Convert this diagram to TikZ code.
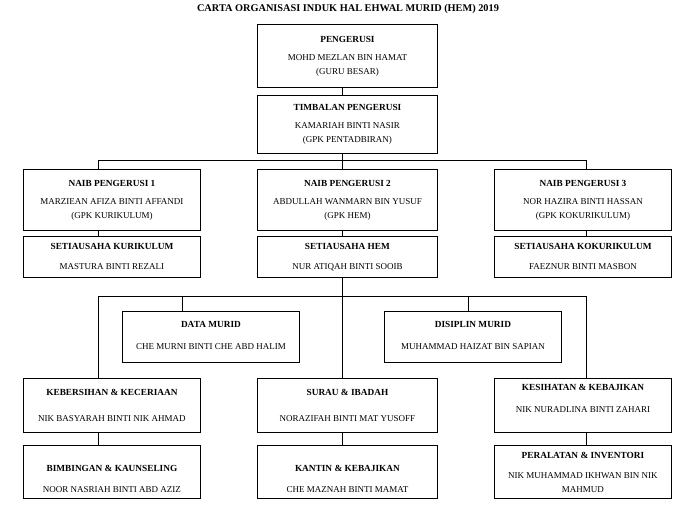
\documentclass[tikz,border=0pt]{standalone}
\usepackage{fontspec}
\setmainfont{Liberation Serif}
\newcommand{\hdr}[1]{{\bfseries\fontsize{9.3}{14}\selectfont #1}}
\begin{document}
\begin{tikzpicture}[x=1pt,y=-1pt,
  box/.style={draw, line width=0.9pt, anchor=north west, align=center, inner sep=0pt,
    font=\fontsize{9}{14}\selectfont},
  wbox/.style={box, minimum width=180},
  nbox/.style={box, minimum width=177},
  conn/.style={line width=0.7pt}]
\useasboundingbox (0,0) rectangle (686,507);
\node[font=\bfseries\fontsize{10.3}{12}\selectfont] (title) at (348,9) {CARTA ORGANISASI INDUK HAL EHWAL MURID (HEM) 2019};
% top
\node[wbox, minimum height=63] (p) at (257,24) {\hdr{PENGERUSI}\\[4pt]MOHD MEZLAN BIN HAMAT\\(GURU BESAR)};
\node[wbox, minimum height=58] (t) at (257,95) {\hdr{TIMBALAN PENGERUSI}\\[4pt]KAMARIAH BINTI NASIR\\(GPK PENTADBIRAN)};
% naib
\node[nbox, minimum height=61] (n1) at (23,169) {\hdr{NAIB PENGERUSI 1}\\[4pt]MARZIEAN AFIZA BINTI AFFANDI\\(GPK KURIKULUM)};
\node[wbox, minimum height=61] (n2) at (257,169) {\hdr{NAIB PENGERUSI 2}\\[4pt]ABDULLAH WANMARN BIN YUSUF\\(GPK HEM)};
\node[nbox, minimum height=61] (n3) at (494,169) {\hdr{NAIB PENGERUSI 3}\\[4pt]NOR HAZIRA BINTI HASSAN\\(GPK KOKURIKULUM)};
% setiausaha
\node[nbox, minimum height=41] (s1) at (23,236) {\hdr{SETIAUSAHA KURIKULUM}\\[6pt]MASTURA BINTI REZALI};
\node[wbox, minimum height=41] (s2) at (257,236) {\hdr{SETIAUSAHA HEM}\\[6pt]NUR ATIQAH BINTI SOOIB};
\node[nbox, minimum height=41] (s3) at (494,236) {\hdr{SETIAUSAHA KOKURIKULUM}\\[6pt]FAEZNUR BINTI MASBON};
% data / disiplin
\node[nbox, minimum height=51] (dm) at (122,311) {\hdr{DATA MURID}\\[8pt]CHE MURNI BINTI CHE ABD HALIM\rule[-4pt]{0pt}{1pt}};
\node[nbox, minimum height=51] (dp) at (384,311) {\hdr{DISIPLIN MURID}\\[8pt]MUHAMMAD HAIZAT BIN SAPIAN\rule[-4pt]{0pt}{1pt}};
% row 3
\node[nbox, minimum height=54] (r1) at (23,378) {\hdr{KEBERSIHAN \& KECERIAAN}\\[12pt]NIK BASYARAH BINTI NIK AHMAD};
\node[wbox, minimum height=54] (r2) at (257,378) {\hdr{SURAU \& IBADAH}\\[12pt]NORAZIFAH BINTI MAT YUSOFF};
\node[nbox, minimum height=54] (r3) at (494,378) {\hdr{KESIHATAN \& KEBAJIKAN}\\[8pt]NIK NURADLINA BINTI ZAHARI\rule[-14pt]{0pt}{1pt}};
% row 4
\node[nbox, minimum height=53] (b1) at (23,445) {\rule{0pt}{20pt}\hdr{BIMBINGAN \& KAUNSELING}\\[7pt]NOOR NASRIAH BINTI ABD AZIZ};
\node[wbox, minimum height=53] (b2) at (257,445) {\rule{0pt}{20pt}\hdr{KANTIN \& KEBAJIKAN}\\[7pt]CHE MAZNAH BINTI MAMAT};
\node[nbox, minimum height=53] (b3) at (494,445) {\hdr{PERALATAN \& INVENTORI}\\[6pt]NIK MUHAMMAD IKHWAN BIN NIK\\MAHMUD};
% connector columns
\coordinate (xl) at (98,0);
\coordinate (xc) at (342,0);
\coordinate (xr) at (586,0);
\coordinate (xd) at (182,0);
\coordinate (xp) at (468,0);
\coordinate (j1) at (342,160);
\coordinate (j2) at (342,296);
% connectors
\draw[conn] (p.south -| xc) -- (t.north -| xc);
\draw[conn] (t.south -| xc) -- (n2.north -| xc);
\draw[conn] (n1.north -| xl) -- (xl |- j1) -- (xr |- j1) -- (n3.north -| xr);
\draw[conn] (n1.south -| xl) -- (s1.north -| xl);
\draw[conn] (n2.south -| xc) -- (s2.north -| xc);
\draw[conn] (n3.south -| xr) -- (s3.north -| xr);
\draw[conn] (s2.south -| xc) -- (r2.north -| xc);
\draw[conn] (r1.north -| xl) -- (xl |- j2) -- (xr |- j2) -- (r3.north -| xr);
\draw[conn] (xd |- j2) -- (dm.north -| xd);
\draw[conn] (xp |- j2) -- (dp.north -| xp);
\draw[conn] (r1.south -| xl) -- (b1.north -| xl);
\draw[conn] (r2.south -| xc) -- (b2.north -| xc);
\draw[conn] (r3.south -| xr) -- (b3.north -| xr);
\end{tikzpicture}
\end{document}
